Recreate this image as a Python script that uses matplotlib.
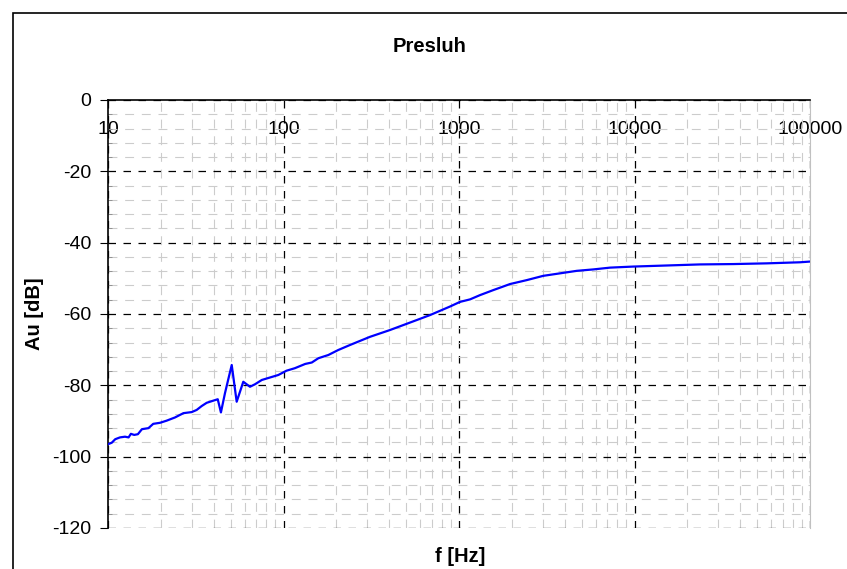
import numpy as np
import matplotlib.pyplot as plt
from matplotlib.patches import Rectangle
from matplotlib.ticker import LogLocator, MultipleLocator, NullFormatter, FixedLocator, FixedFormatter

plt.rcParams['font.family'] = ['Liberation Sans', 'DejaVu Sans']
plt.rcParams['axes.unicode_minus'] = False

freq = [10.0, 10.5, 11.0, 11.7, 12.5, 13.1, 13.5, 14.1, 14.8, 15.6, 17.0, 18.1,
        19.8, 21.6, 24.1, 26.9, 30.0, 32.0, 34.2, 36.5, 39.8, 42.2, 44.0, 46.4,
        48.9, 50.7, 54.1, 59.0, 64.4, 68.8, 75.2, 83.8, 93.4, 104, 116, 133,
        145, 158, 180, 205, 239, 311, 404, 526, 684, 889, 1014, 1156, 1318,
        1568, 1954, 2432, 3020, 3764, 4688, 5826, 7250, 9840, 15240, 23600,
        36550, 56600, 87700, 100000]
au_db = [-96.5, -96.1, -95.1, -94.6, -94.4, -94.6, -93.6, -93.9, -93.7, -92.3,
         -92.0, -90.8, -90.5, -89.9, -89.0, -87.8, -87.5, -86.9, -85.8, -84.9,
         -84.3, -83.9, -87.6, -82.2, -77.5, -74.3, -84.6, -79.0, -80.4, -79.7,
         -78.5, -77.8, -77.1, -75.9, -75.2, -74.0, -73.6, -72.4, -71.5, -70.1,
         -68.7, -66.4, -64.5, -62.4, -60.3, -57.9, -56.6, -55.9, -54.7, -53.3,
         -51.6, -50.5, -49.3, -48.6, -47.9, -47.5, -47.0, -46.7, -46.4, -46.1,
         -46.0, -45.8, -45.5, -45.3]

x_ticks = [10, 100, 1000, 10000, 100000]
x_labels = ['10', '100', '1000', '10000', '100000']
y_ticks = list(range(-120, 1, 20))

W, H = 847, 569
fig = plt.figure(figsize=(W / 100, H / 100), dpi=100)
ax = fig.add_axes([108 / W, 1 - 528 / H, (810 - 108) / W, (528 - 100) / H])

# outer chart-area border (runs off right and bottom edges)
fig.patches.append(Rectangle((13 / W, -0.1), 1.2, 1 - 13 / H + 0.1,
                             transform=fig.transFigure, fill=False,
                             edgecolor='black', lw=1.2))

ax.plot(freq, au_db, color='#0000ff', lw=1.6, zorder=5)

ax.set_xscale('log')
ax.set_xlim(10, 100000)
ax.set_ylim(-120, 0)

ax.xaxis.set_major_locator(FixedLocator(x_ticks))
ax.xaxis.set_major_formatter(FixedFormatter(x_labels))
ax.xaxis.set_minor_locator(LogLocator(base=10, subs=np.arange(2, 10)))
ax.xaxis.set_minor_formatter(NullFormatter())
ax.yaxis.set_major_locator(FixedLocator(y_ticks))
ax.yaxis.set_minor_locator(MultipleLocator(4))

ax.grid(which='minor', color='#cccccc', ls=(0, (8, 7)), lw=0.8)
ax.grid(which='major', color='black', ls=(0, (6, 6)), lw=0.9)

ax.tick_params(axis='x', which='both', top=True, bottom=False,
               labeltop=True, labelbottom=False, direction='in',
               length=0, pad=-27, labelsize=14)
ax.tick_params(axis='y', which='major', direction='out', length=6,
               labelsize=14, pad=6)
ax.tick_params(axis='y', which='minor', direction='in', length=3,
               color='#888888')

for side in ['top', 'left']:
    ax.spines[side].set_color('black')
    ax.spines[side].set_linewidth(1.2)
ax.spines['bottom'].set_visible(False)
ax.spines['right'].set_color('#c0c0c0')

ax.set_ylabel('Au [dB]', fontsize=14.5, fontweight='bold', labelpad=6)
fig.text(460 / W, 1 - 556 / H, 'f [Hz]', fontsize=14.5, fontweight='bold',
         ha='center', va='center')
fig.text(430 / W, 1 - 46 / H, 'Presluh', fontsize=14.5, fontweight='bold',
         ha='center', va='center')

fig.savefig('out.png', dpi=100)
